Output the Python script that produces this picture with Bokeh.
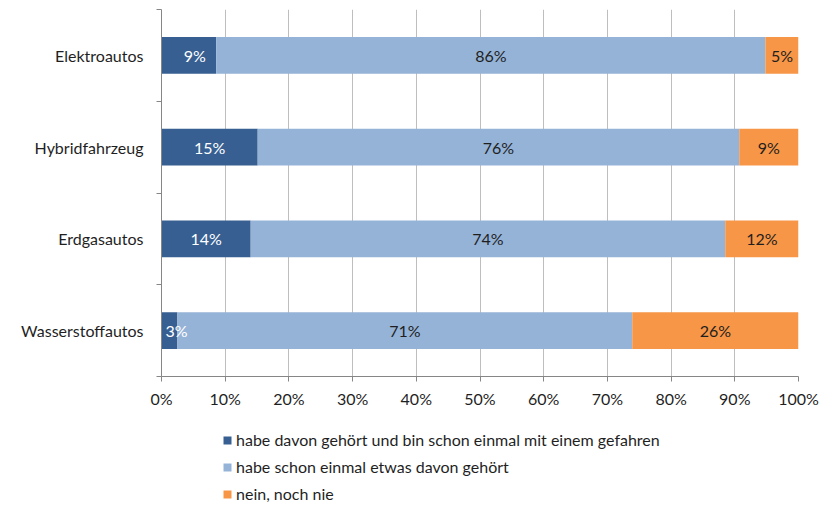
from bokeh.plotting import figure
from bokeh.layouts import column
from bokeh.models import (ColumnDataSource, FixedTicker, Legend, LegendItem,
                          NumeralTickFormatter, Range1d, LabelSet)
from bokeh.core.properties import value
from bokeh.embed import file_html
from bokeh.resources import INLINE

categories = ["Elektroautos", "Hybridfahrzeug", "Erdgasautos", "Wasserstoffautos"]
gefahren = [8.6, 15.1, 14.0, 2.5]
gehoert = [86.2, 75.6, 74.5, 71.4]
nie = [5.2, 9.3, 11.5, 26.1]
gefahren_lbl = ["9%", "15%", "14%", "3%"]
gehoert_lbl = ["86%", "76%", "74%", "71%"]
nie_lbl = ["5%", "9%", "12%", "26%"]
series_names = ["habe davon gehört und bin schon einmal mit einem gefahren",
                "habe schon einmal etwas davon gehört",
                "nein, noch nie"]
x_ticks = [0, 10, 20, 30, 40, 50, 60, 70, 80, 90, 100]

# styles
colors = ["#375F92", "#95B3D7", "#F79646"]
FONT = "Lato"
FS = "16px"
small_label_shift = [6, 0, 0, 7]  # pixel nudges of the narrow dark-segment labels

n = len(categories)
ypos = [n - i - 0.5 for i in range(n)]
s1_l = [0] * n
s1_r = gefahren
s2_l = gefahren
s2_r = [a + b for a, b in zip(gefahren, gehoert)]
s3_l = s2_r
s3_r = [a + b for a, b in zip(s2_r, nie)]

src = ColumnDataSource(dict(
    y=ypos,
    l1=s1_l, r1=s1_r, l2=s2_l, r2=s2_r, l3=s3_l, r3=s3_r,
    c1=[(a + b) / 2 for a, b in zip(s1_l, s1_r)],
    c2=[(a + b) / 2 for a, b in zip(s2_l, s2_r)],
    c3=[(a + b) / 2 for a, b in zip(s3_l, s3_r)],
    t1=gefahren_lbl, t2=gehoert_lbl, t3=nie_lbl,
    o1=small_label_shift, o0=[0] * n,
))

p = figure(width=825, height=410, output_backend="svg", toolbar_location=None,
           x_range=Range1d(0, 100), y_range=Range1d(0, n),
           min_border_left=161, min_border_right=27, min_border_top=9,
           min_border_bottom=32)
p.outline_line_color = None
p.background_fill_color = "white"

bh = 0.40
p.hbar(y="y", left="l1", right="r1", height=bh, source=src, fill_color=colors[0], line_color=None)
p.hbar(y="y", left="l2", right="r2", height=bh, source=src, fill_color=colors[1], line_color=None)
p.hbar(y="y", left="l3", right="r3", height=bh, source=src, fill_color=colors[2], line_color=None)

for cx, tx, col, off in [("c1", "t1", "white", "o1"), ("c2", "t2", "#1F1F1F", "o0"),
                         ("c3", "t3", "#1F1F1F", "o0")]:
    p.add_layout(LabelSet(x=cx, y="y", text=tx, source=src, text_align="center",
                          text_baseline="middle", text_color=col, x_offset=off,
                          text_font=value(FONT), text_font_size=FS))

# x axis
p.xaxis.ticker = FixedTicker(ticks=x_ticks)
p.xaxis.formatter = NumeralTickFormatter(format="0")
p.xaxis.major_label_overrides = {t: f"{t}%" for t in x_ticks}
p.xaxis.axis_line_color = "#868686"
p.xaxis.major_tick_line_color = "#868686"
p.xaxis.major_tick_out = 5
p.xaxis.major_tick_in = 0
p.xaxis.minor_tick_line_color = None
p.xaxis.major_label_text_font = FONT
p.xaxis.major_label_text_font_size = FS
p.xaxis.major_label_text_color = "#1F1F1F"
p.xaxis.major_label_standoff = 7

# y axis
p.yaxis.ticker = FixedTicker(ticks=ypos, minor_ticks=[0, 1, 2, 3, 4])
p.yaxis.major_label_overrides = {y: c for y, c in zip(ypos, categories)}
p.yaxis.axis_line_color = "#868686"
p.yaxis.major_tick_line_color = None
p.yaxis.major_tick_out = 0
p.yaxis.major_tick_in = 0
p.yaxis.minor_tick_line_color = "#868686"
p.yaxis.minor_tick_out = 5
p.yaxis.minor_tick_in = 0
p.yaxis.major_label_text_font = FONT
p.yaxis.major_label_text_font_size = FS
p.yaxis.major_label_text_color = "#1F1F1F"
p.yaxis.major_label_standoff = 13

p.xgrid.ticker = FixedTicker(ticks=x_ticks)
p.xgrid.grid_line_color = "#BEBEBE"
p.xgrid.grid_line_width = 1
p.ygrid.grid_line_color = None

# legend panel below the chart (its frame is aligned with the chart's frame)
pl = figure(width=825, height=96, output_backend="svg", toolbar_location=None,
            x_range=Range1d(0, 1), y_range=Range1d(0, 1),
            min_border_left=161, min_border_right=27, min_border_top=0, min_border_bottom=0)
pl.axis.visible = False
pl.grid.visible = False
pl.outline_line_color = None
dummy = dict(y=[0], left=[0], right=[0])
lr = [pl.hbar(y="y", left="left", right="right", height=0, source=ColumnDataSource(dummy),
              fill_color=c, line_color=None) for c in colors]

legend = Legend(items=[LegendItem(label=s, renderers=[r]) for s, r in zip(series_names, lr)],
                location=(61, 3), orientation="vertical")
legend.border_line_color = None
legend.background_fill_alpha = 0
legend.padding = 0
legend.margin = 0
legend.spacing = 8
legend.glyph_width = 10
legend.glyph_height = 10
legend.label_standoff = 4
legend.label_text_font = FONT
legend.label_text_font_size = "16px"
legend.label_text_color = "#1F1F1F"
legend.label_height = 18
pl.add_layout(legend, "center")

layout = column(p, pl, spacing=0)
open("out.html", "w").write(file_html(layout, INLINE))
